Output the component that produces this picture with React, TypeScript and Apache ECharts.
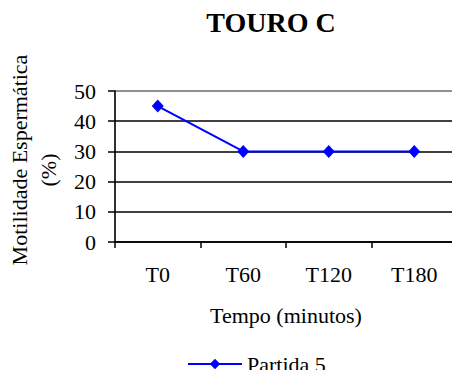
import React, { useEffect, useRef } from "react";
import * as echarts from "echarts";

const categories = ["T0", "T60", "T120", "T180"];
const partida5 = [45, 30, 30, 30];
const seriesName = "Partida 5";
const chartTitle = "TOURO C";
const xAxisName = "Tempo (minutos)";
const yAxisNameLines = ["Motilidade Espermática", "(%)"];

const FONT = '"Liberation Serif", "Times New Roman", serif';

export default function App() {
  const ref = useRef<HTMLDivElement>(null);
  useEffect(() => {
    if (!ref.current) return;
    const chart = echarts.init(ref.current, undefined, { renderer: "svg" });
    chart.setOption({
      animation: false,
      backgroundColor: "#fff",
      textStyle: { fontFamily: FONT },
      grid: {
        left: 115,
        right: 3,
        top: 91,
        bottom: 136,
        show: true,
        borderColor: "#808080",
        borderWidth: 1,
      },
      graphic: [
        {
          type: "text",
          x: 271,
          y: 22,
          style: {
            text: chartTitle,
            fontFamily: FONT,
            fontSize: 28,
            fontWeight: "bold",
            fill: "#000",
            align: "center",
            verticalAlign: "middle",
          },
        },
        {
          type: "text",
          x: 19,
          y: 160,
          rotation: Math.PI / 2,
          style: {
            text: yAxisNameLines[0],
            fontFamily: FONT,
            fontSize: 22,
            fill: "#000",
            align: "center",
            verticalAlign: "middle",
          },
        },
        {
          type: "text",
          x: 48,
          y: 170,
          rotation: Math.PI / 2,
          style: {
            text: yAxisNameLines[1],
            fontFamily: FONT,
            fontSize: 22,
            fill: "#000",
            align: "center",
            verticalAlign: "middle",
          },
        },
      ],
      legend: {
        data: [seriesName],
        left: 187,
        top: 353,
        padding: 0,
        itemWidth: 54,
        itemHeight: 13,
        itemGap: 10,
        textStyle: { fontFamily: FONT, fontSize: 22, color: "#000" },
      },
      xAxis: {
        type: "category",
        data: categories,
        boundaryGap: true,
        axisLine: { show: true, lineStyle: { color: "#000", width: 1.5 } },
        axisTick: { show: true, length: 6, lineStyle: { color: "#000", width: 1.5 } },
        axisLabel: { fontFamily: FONT, fontSize: 22, color: "#000", margin: 21 },
        splitLine: { show: false },
        name: xAxisName,
        nameLocation: "middle",
        nameGap: 62,
        nameTextStyle: { fontFamily: FONT, fontSize: 22, color: "#000" },
      },
      yAxis: {
        type: "value",
        min: 0,
        max: 50,
        interval: 10,
        axisLine: { show: true, lineStyle: { color: "#000", width: 1.5 } },
        axisTick: { show: true, length: 7, lineStyle: { color: "#000", width: 1.5 } },
        axisLabel: { fontFamily: FONT, fontSize: 22, color: "#000", margin: 19 },
        splitLine: {
          show: true,
          lineStyle: {
            color: ["#000", "#000", "#000", "#000", "#000", "#808080"],
            width: 1.5,
          },
        },
      },
      series: [
        {
          name: seriesName,
          type: "line",
          data: partida5,
          color: "#0000FF",
          lineStyle: { color: "#0000FF", width: 2 },
          itemStyle: { color: "#0000FF" },
          symbol: "diamond",
          symbolSize: [12, 13],
          showSymbol: true,
        },
      ],
    });
    return () => chart.dispose();
  }, []);
  return <div ref={ref} style={{ width: 460, height: 378, margin: -8 }} />;
}
